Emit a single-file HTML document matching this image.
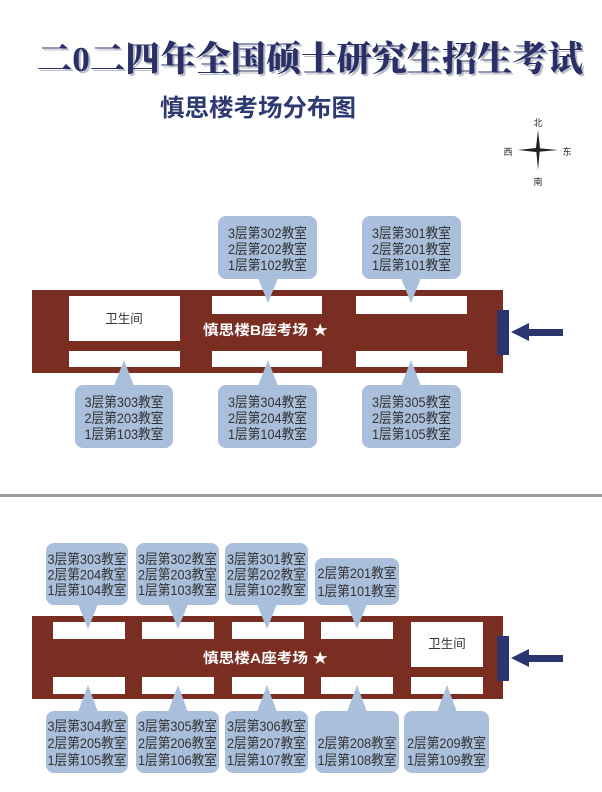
<!DOCTYPE html>
<html><head><meta charset="utf-8"><style>
html,body{margin:0;padding:0;background:#fff;}
svg{display:block;}
.t{font-family:"Liberation Sans","Noto Sans CJK SC",sans-serif;font-size:14px;fill:#333;text-anchor:middle;}
</style></head><body>
<svg width="602" height="792" viewBox="0 0 602 792" xmlns="http://www.w3.org/2000/svg">
<text x="39" y="73" textLength="546" lengthAdjust="spacingAndGlyphs" font-family="'Liberation Serif','Noto Serif CJK SC',serif" font-weight="900" font-size="35" fill="#b9bcc9">二0二四年全国硕士研究生招生考试</text>
<text x="37" y="71" textLength="546" lengthAdjust="spacingAndGlyphs" font-family="'Liberation Serif','Noto Serif CJK SC',serif" font-weight="900" font-size="35" fill="#2a2f66">二0二四年全国硕士研究生招生考试</text>
<text x="258" y="116" text-anchor="middle" textLength="196" lengthAdjust="spacingAndGlyphs" font-family="'Liberation Sans','Noto Sans CJK SC',sans-serif" font-weight="bold" font-size="24" fill="#2d3a72">慎思楼考场分布图</text>
<g fill="#222">
<polygon points="538,130 540,148 538,170 536,148"/>
<polygon points="518,150 536,148 558,150 536,152"/>
</g>
<g font-family="'Liberation Sans','Noto Sans CJK SC',sans-serif" font-size="9" fill="#222" text-anchor="middle">
<text x="538" y="126">北</text><text x="538" y="185">南</text>
<text x="508" y="155">西</text><text x="567" y="155">东</text>
</g>

<rect x="32" y="290" width="471" height="83" fill="#7a2e22"/>
<rect x="69" y="296" width="111" height="45" fill="#fff"/>
<rect x="69" y="351" width="111" height="16" fill="#fff"/>
<rect x="212" y="296" width="110" height="18" fill="#fff"/>
<rect x="212" y="351" width="110" height="16" fill="#fff"/>
<rect x="356" y="296" width="111" height="18" fill="#fff"/>
<rect x="356" y="351" width="111" height="16" fill="#fff"/>
<text x="124" y="323" class="t" style="font-size:12.5px">卫生间</text>
<text x="203" y="335" textLength="125" lengthAdjust="spacingAndGlyphs" font-family="'Liberation Sans','Noto Sans CJK SC',sans-serif" font-weight="bold" font-size="14" fill="#fff">慎思楼B座考场 ★</text>
<rect x="497" y="310" width="12" height="45" fill="#2d3570"/>
<polygon points="511,332 529,323 529,329 563,329 563,336 529,336 529,341" fill="#2d3570"/>

<g fill="#a9bfdc">
<rect x="218" y="216" width="99" height="63" rx="8"/><polygon points="258,278 278,278 268,303"/>
<rect x="362" y="216" width="99" height="63" rx="8"/><polygon points="401,278 421,278 411,303"/>
<rect x="75" y="385" width="98" height="63" rx="8"/><polygon points="114,386 134,386 124,360"/>
<rect x="218" y="385" width="99" height="63" rx="8"/><polygon points="258,386 278,386 268,360"/>
<rect x="362" y="385" width="99" height="63" rx="8"/><polygon points="401,386 421,386 411,360"/>
</g>
<g class="t">
<text x="267.5" y="238" textLength="79" lengthAdjust="spacingAndGlyphs">3层第302教室</text><text x="267.5" y="254" textLength="79" lengthAdjust="spacingAndGlyphs">2层第202教室</text><text x="267.5" y="270" textLength="79" lengthAdjust="spacingAndGlyphs">1层第102教室</text>
<text x="411.5" y="238" textLength="79" lengthAdjust="spacingAndGlyphs">3层第301教室</text><text x="411.5" y="254" textLength="79" lengthAdjust="spacingAndGlyphs">2层第201教室</text><text x="411.5" y="270" textLength="79" lengthAdjust="spacingAndGlyphs">1层第101教室</text>
<text x="124" y="407" textLength="79" lengthAdjust="spacingAndGlyphs">3层第303教室</text><text x="124" y="423" textLength="79" lengthAdjust="spacingAndGlyphs">2层第203教室</text><text x="124" y="439" textLength="79" lengthAdjust="spacingAndGlyphs">1层第103教室</text>
<text x="267.5" y="407" textLength="79" lengthAdjust="spacingAndGlyphs">3层第304教室</text><text x="267.5" y="423" textLength="79" lengthAdjust="spacingAndGlyphs">2层第204教室</text><text x="267.5" y="439" textLength="79" lengthAdjust="spacingAndGlyphs">1层第104教室</text>
<text x="411.5" y="407" textLength="79" lengthAdjust="spacingAndGlyphs">3层第305教室</text><text x="411.5" y="423" textLength="79" lengthAdjust="spacingAndGlyphs">2层第205教室</text><text x="411.5" y="439" textLength="79" lengthAdjust="spacingAndGlyphs">1层第105教室</text>
</g>

<rect x="0" y="494" width="602" height="3" fill="#999"/>

<rect x="32" y="616" width="471" height="83" fill="#7a2e22"/>
<rect x="53" y="622" width="72" height="17" fill="#fff"/><rect x="53" y="677" width="72" height="17" fill="#fff"/>
<rect x="142" y="622" width="72" height="17" fill="#fff"/><rect x="142" y="677" width="72" height="17" fill="#fff"/>
<rect x="232" y="622" width="72" height="17" fill="#fff"/><rect x="232" y="677" width="72" height="17" fill="#fff"/>
<rect x="321" y="622" width="72" height="17" fill="#fff"/><rect x="321" y="677" width="72" height="17" fill="#fff"/>
<rect x="411" y="622" width="72" height="45" fill="#fff"/><rect x="411" y="677" width="72" height="17" fill="#fff"/>
<text x="447" y="648" class="t" style="font-size:12.5px">卫生间</text>
<text x="203" y="663" textLength="125" lengthAdjust="spacingAndGlyphs" font-family="'Liberation Sans','Noto Sans CJK SC',sans-serif" font-weight="bold" font-size="14" fill="#fff">慎思楼A座考场 ★</text>
<rect x="497" y="636" width="12" height="45" fill="#2d3570"/>
<polygon points="511,658 529,649 529,655 563,655 563,662 529,662 529,667" fill="#2d3570"/>

<g fill="#a9bfdc">
<rect x="46" y="543" width="82" height="62" rx="8"/><polygon points="78,604 98,604 88,629"/>
<rect x="136" y="543" width="83" height="62" rx="8"/><polygon points="168,604 188,604 178,629"/>
<rect x="225" y="543" width="83" height="62" rx="8"/><polygon points="257,604 277,604 267,629"/>
<rect x="315" y="558" width="84" height="47" rx="8"/><polygon points="347,604 367,604 357,629"/>
<rect x="46" y="711" width="82" height="62" rx="8"/><polygon points="78,712 98,712 88,685"/>
<rect x="136" y="711" width="83" height="62" rx="8"/><polygon points="168,712 188,712 178,685"/>
<rect x="225" y="711" width="83" height="62" rx="8"/><polygon points="257,712 277,712 267,685"/>
<rect x="315" y="711" width="84" height="62" rx="8"/><polygon points="347,712 367,712 357,685"/>
<rect x="404" y="711" width="85" height="62" rx="8"/><polygon points="437,712 457,712 447,685"/>
</g>
<g class="t">
<text x="87" y="564" textLength="79" lengthAdjust="spacingAndGlyphs">3层第303教室</text><text x="87" y="579.5" textLength="79" lengthAdjust="spacingAndGlyphs">2层第204教室</text><text x="87" y="595" textLength="79" lengthAdjust="spacingAndGlyphs">1层第104教室</text>
<text x="177.5" y="564" textLength="79" lengthAdjust="spacingAndGlyphs">3层第302教室</text><text x="177.5" y="579.5" textLength="79" lengthAdjust="spacingAndGlyphs">2层第203教室</text><text x="177.5" y="595" textLength="79" lengthAdjust="spacingAndGlyphs">1层第103教室</text>
<text x="266.5" y="564" textLength="79" lengthAdjust="spacingAndGlyphs">3层第301教室</text><text x="266.5" y="579.5" textLength="79" lengthAdjust="spacingAndGlyphs">2层第202教室</text><text x="266.5" y="595" textLength="79" lengthAdjust="spacingAndGlyphs">1层第102教室</text>
<text x="357" y="578" textLength="79" lengthAdjust="spacingAndGlyphs">2层第201教室</text><text x="357" y="596" textLength="79" lengthAdjust="spacingAndGlyphs">1层第101教室</text>
<text x="87" y="731" textLength="79" lengthAdjust="spacingAndGlyphs">3层第304教室</text><text x="87" y="748" textLength="79" lengthAdjust="spacingAndGlyphs">2层第205教室</text><text x="87" y="765" textLength="79" lengthAdjust="spacingAndGlyphs">1层第105教室</text>
<text x="177.5" y="731" textLength="79" lengthAdjust="spacingAndGlyphs">3层第305教室</text><text x="177.5" y="748" textLength="79" lengthAdjust="spacingAndGlyphs">2层第206教室</text><text x="177.5" y="765" textLength="79" lengthAdjust="spacingAndGlyphs">1层第106教室</text>
<text x="266.5" y="731" textLength="79" lengthAdjust="spacingAndGlyphs">3层第306教室</text><text x="266.5" y="748" textLength="79" lengthAdjust="spacingAndGlyphs">2层第207教室</text><text x="266.5" y="765" textLength="79" lengthAdjust="spacingAndGlyphs">1层第107教室</text>
<text x="357" y="748" textLength="79" lengthAdjust="spacingAndGlyphs">2层第208教室</text><text x="357" y="765" textLength="79" lengthAdjust="spacingAndGlyphs">1层第108教室</text>
<text x="446.5" y="748" textLength="79" lengthAdjust="spacingAndGlyphs">2层第209教室</text><text x="446.5" y="765" textLength="79" lengthAdjust="spacingAndGlyphs">1层第109教室</text>
</g>
</svg>
</body></html>
